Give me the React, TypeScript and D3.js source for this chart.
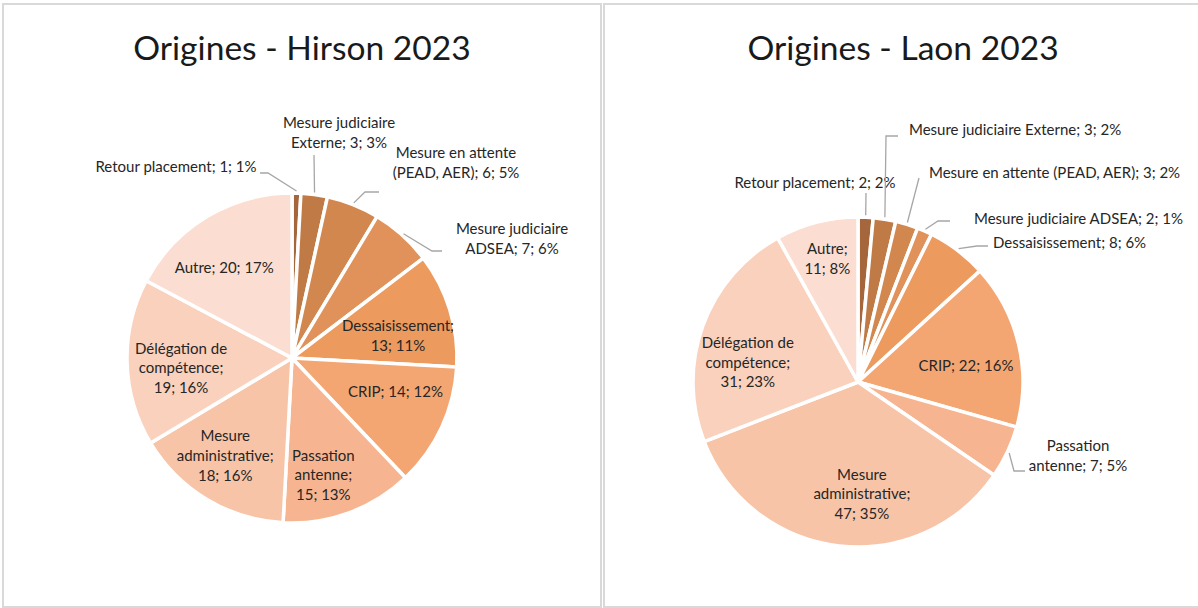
import React from "react";
import * as d3 from "d3";

// categories, same order in both charts (clockwise from 12 o'clock)
const categories = [
  "Retour placement",
  "Mesure judiciaire Externe",
  "Mesure en attente (PEAD, AER)",
  "Mesure judiciaire ADSEA",
  "Dessaisissement",
  "CRIP",
  "Passation antenne",
  "Mesure administrative",
  "Délégation de compétence",
  "Autre",
];

const hirsonValues = [1, 3, 6, 7, 13, 14, 15, 18, 19, 20];
const laonValues = [2, 3, 3, 2, 8, 22, 7, 47, 31, 11];

// percentages as printed on the chart
const hirsonPct = ["1%", "3%", "5%", "6%", "11%", "12%", "13%", "16%", "16%", "17%"];
const laonPct = ["2%", "2%", "2%", "1%", "6%", "16%", "5%", "35%", "23%", "8%"];

const couleurs = [
  "#a6663c", "#c07a46", "#d2874f", "#e0925a", "#ec9a5e",
  "#f4a672", "#f6b590", "#f8c4a8", "#f9d1bc", "#fbded1",
];

// how each label is broken into lines ("{v}" value, "{p}" percent)
const hirsonLines = [
  ["Retour placement; {v}; {p}"],
  ["Mesure judiciaire", "Externe; {v}; {p}"],
  ["Mesure en attente", "(PEAD, AER); {v}; {p}"],
  ["Mesure judiciaire", "ADSEA; {v}; {p}"],
  ["Dessaisissement;", "{v}; {p}"],
  ["CRIP; {v}; {p}"],
  ["Passation", "antenne;", "{v}; {p}"],
  ["Mesure", "administrative;", "{v}; {p}"],
  ["Délégation de", "compétence;", "{v}; {p}"],
  ["Autre; {v}; {p}"],
];

const laonLines = [
  ["Retour placement; {v}; {p}"],
  ["Mesure judiciaire Externe; {v}; {p}"],
  ["Mesure en attente (PEAD, AER); {v}; {p}"],
  ["Mesure judiciaire ADSEA; {v}; {p}"],
  ["Dessaisissement; {v}; {p}"],
  ["CRIP; {v}; {p}"],
  ["Passation", "antenne; {v}; {p}"],
  ["Mesure", "administrative;", "{v}; {p}"],
  ["Délégation de", "compétence;", "{v}; {p}"],
  ["Autre;", "{v}; {p}"],
];

// label placement: "in" = centroid + nudge, "out" = free position + leader elbows (relative to centre)
const hirsonLayout = [
  { out: [-116, -191], anchor: "middle", leader: [[-24, -185], [-32, -185]] },
  { out: [47, -225], anchor: "middle", leader: [[22, -203]] },
  { out: [164, -195], anchor: "middle", leader: [[73, -166], [87, -166]] },
  { out: [220, -119], anchor: "middle", leader: [[140, -107], [150, -107]] },
  { nudge: [-3, 11] },
  { nudge: [0, -14] },
  { nudge: [-8, 10] },
  { nudge: [-8, 0] },
  { nudge: [3, 7] },
  { nudge: [-9, 7] },
];

const laonLayout = [
  { out: [-43, -199], anchor: "middle", leader: [[8, -189]] },
  { out: [51, -252], anchor: "start", leader: [[28, -246], [40, -246]] },
  { out: [71, -209], anchor: "start", leader: [[61, -204]] },
  { out: [116, -163], anchor: "start", leader: [[80, -161], [92, -161]] },
  { out: [135, -139], anchor: "start", leader: [[119, -136], [130, -136]] },
  { nudge: [-3, 10] },
  { out: [220, 74], anchor: "middle", leader: [[156, 89], [167, 89]] },
  { nudge: [17, -1] },
  { nudge: [-3, 19] },
  { nudge: [-2, -13] },
];

const W = 1198;
const H = 608;
const R = 165;
const FONT = "Lato, 'Open Sans', sans-serif";
const LINE = 19.7;

const Pie = ({ title, values, pcts, lines, layout, cx, cy, panelX, panelW }) => {
  const pie = d3.pie<number>().value(d => d).sort(null);
  const arcs = pie(values);
  const arc = d3.arc<any>().innerRadius(0).outerRadius(R);
  const labelArc = d3.arc<any>().innerRadius(114).outerRadius(114);

  return (
    <g>
      <rect x={panelX} y={4} width={panelW} height={603} fill="white" stroke="#d9d9d9" strokeWidth={2} />
      <text x={panelX + panelW / 2} y={60} textAnchor="middle" fontFamily={FONT} fontSize={33.6} fill="#1a1a1a">
        {title}
      </text>
      <g transform={`translate(${cx},${cy})`}>
        {arcs.map((a, i) => (
          <path key={i} d={arc(a)} fill={couleurs[i]} stroke="white" strokeWidth={3.5} strokeLinejoin="round" />
        ))}
        {arcs.map((a, i) => {
          const lay = layout[i];
          const txt = lines[i].map(l => l.replace("{v}", String(values[i])).replace("{p}", pcts[i]));
          let x, y, anchor;
          let leader = null;
          if (lay.out) {
            [x, y] = lay.out;
            anchor = lay.anchor;
            const mid = (a.startAngle + a.endAngle) / 2;
            const start: [number, number] = [Math.sin(mid) * (R + 2), -Math.cos(mid) * (R + 2)];
            leader = d3.line()([start, ...lay.leader]);
          } else {
            const c = labelArc.centroid(a);
            x = c[0] + lay.nudge[0];
            y = c[1] + lay.nudge[1];
            anchor = "middle";
          }
          const y0 = y - ((txt.length - 1) * LINE) / 2;
          return (
            <g key={i}>
              {leader && <path d={leader} fill="none" stroke="#a6a6a6" strokeWidth={1.3} />}
              <text textAnchor={anchor} fontFamily={FONT} fontSize={15} fill="#262626">
                {txt.map((t, k) => (
                  <tspan key={k} x={x} y={y0 + k * LINE} dy="0.35em">{t}</tspan>
                ))}
              </text>
            </g>
          );
        })}
      </g>
    </g>
  );
};

export default function App() {
  return (
    <svg width={W} height={H} style={{ position: "absolute", left: 0, top: 0, background: "white" }}>
      <rect width={W} height={H} fill="white" />
      <Pie title="Origines - Hirson 2023" values={hirsonValues} pcts={hirsonPct} lines={hirsonLines}
        layout={hirsonLayout} cx={292} cy={358} panelX={3} panelW={598} />
      <Pie title="Origines - Laon 2023" values={laonValues} pcts={laonPct} lines={laonLines}
        layout={laonLayout} cx={858} cy={382} panelX={604} panelW={598} />
    </svg>
  );
}
